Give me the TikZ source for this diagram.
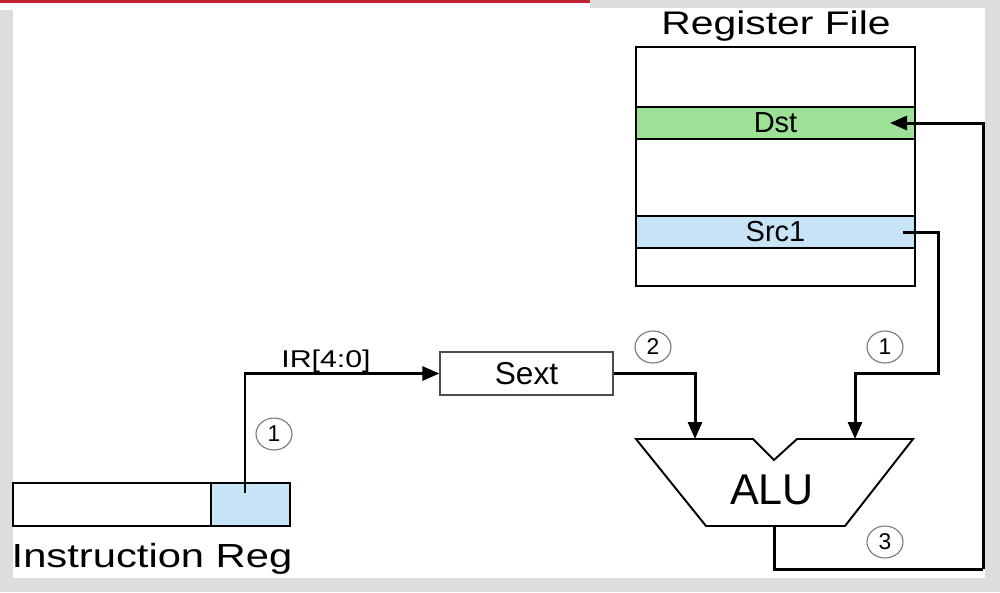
\documentclass[tikz,border=0pt]{standalone}
\usepackage{fontspec}
\setmainfont{Liberation Sans}
\newfontfamily\widesf[FakeStretch=1.25]{Liberation Sans}
\usetikzlibrary{arrows.meta,shapes.geometric}
\definecolor{dstgreen}{RGB}{158,224,150}
\definecolor{srcblue}{RGB}{198,228,246}
\definecolor{slidegray}{RGB}{221,221,221}
\definecolor{slidered}{RGB}{192,32,48}

\begin{document}
\begin{tikzpicture}[x=0.2mm,y=-0.2mm,
	wire/.style={line width=1.7pt},
	feed/.style={wire,-{Triangle[length=3.4mm,width=2.8mm]}},
	band/.style={draw,line width=1.1pt,minimum width=55.8mm,minimum height=6.4mm,inner sep=0pt,font=\fontsize{16.5}{18}\selectfont},
	stepnum/.style={ellipse,draw=black!55,line width=0.6pt,minimum width=7.2mm,minimum height=6.4mm,inner sep=0pt,font=\fontsize{13}{15}\selectfont}]
			%%%%% START %%%%%
			\useasboundingbox (0,0) rectangle (1000,592);
			\fill[slidegray] (0,0) rectangle (1000,592);
			\fill[white] (0,2.5) rectangle (590,10);
			\fill[white] (13,8) rectangle (985,578);
			\fill[slidered] (0,0) rectangle (590,2.5);
			
			% register file
			\node[anchor=base,inner sep=0pt,font=\widesf\fontsize{18.6}{20}\selectfont] (rftitle) at (776,34) {Register File};
			\node[band,fill=dstgreen] (dst) at (775.5,123) {Dst};
			\node[band,fill=srcblue] (src) at (775.5,232) {Src1};
			\node[draw,line width=1.4pt,minimum width=55.8mm,minimum height=47.8mm] (rf) at (775.5,166.5) {};
			
			% instruction register
			\node[draw,line width=1.1pt,minimum width=55.4mm,minimum height=8.6mm] (ir) at (151.5,504.5) {};
			\node[draw,line width=1.1pt,fill=srcblue,minimum width=15.8mm,minimum height=8.6mm] (irf) at (250.5,504.5) {};
			\node[anchor=base,inner sep=0pt,font=\widesf\fontsize{19}{21}\selectfont] (irname) at (152,567) {Instruction Reg};
			
			% sign extend
			\node[draw=black!70,line width=0.7pt,minimum width=34.6mm,minimum height=8.6mm,inner sep=0pt,font=\fontsize{18}{20}\selectfont] (sext) at (526.5,373.5) {Sext};
			
			% ALU
			\draw[line width=1.1pt] (636,439) -- (753,439) -- (774,460) -- (797,439) -- (913,439) -- (845,526) -- (706,526) -- cycle;
			\node[anchor=base,inner sep=0pt,font=\fontsize{24.5}{26}\selectfont] (alu) at (772,504) {ALU};
			\coordinate (alu-a) at (695,439);
			\coordinate (alu-b) at (855,439);
			\coordinate (alu-o) at (774,526);
			
			% wires
			\coordinate (irtap) at (245,493);
			\coordinate (srcout) at (903,232);
			\coordinate (srcbend) at (938,373);
			\coordinate (retcorner) at (983,569);
			\coordinate (dstin) at (890,123);
			
			\draw[feed] (irtap) |- (sext.west);
			\node[anchor=base,inner sep=0pt,font=\widesf\fontsize{13.8}{15}\selectfont] (irbits) at (326,367) {IR[4:0]};
			\draw[feed] (sext.east) -| (alu-a);
			\draw[feed] (srcout) -| (srcbend) -| (alu-b);
			\draw[wire] (alu-o) |- (retcorner);
			\draw[feed] (retcorner) |- (dstin);
			
			% steps
			\node[stepnum] (n1a) at (274,434) {1};
			\node[stepnum] (n2) at (653,347) {2};
			\node[stepnum] (n1b) at (885,347) {1};
			\node[stepnum] (n3) at (885,542) {3};
			%%%%% END %%%%%
\end{tikzpicture}
\end{document}
